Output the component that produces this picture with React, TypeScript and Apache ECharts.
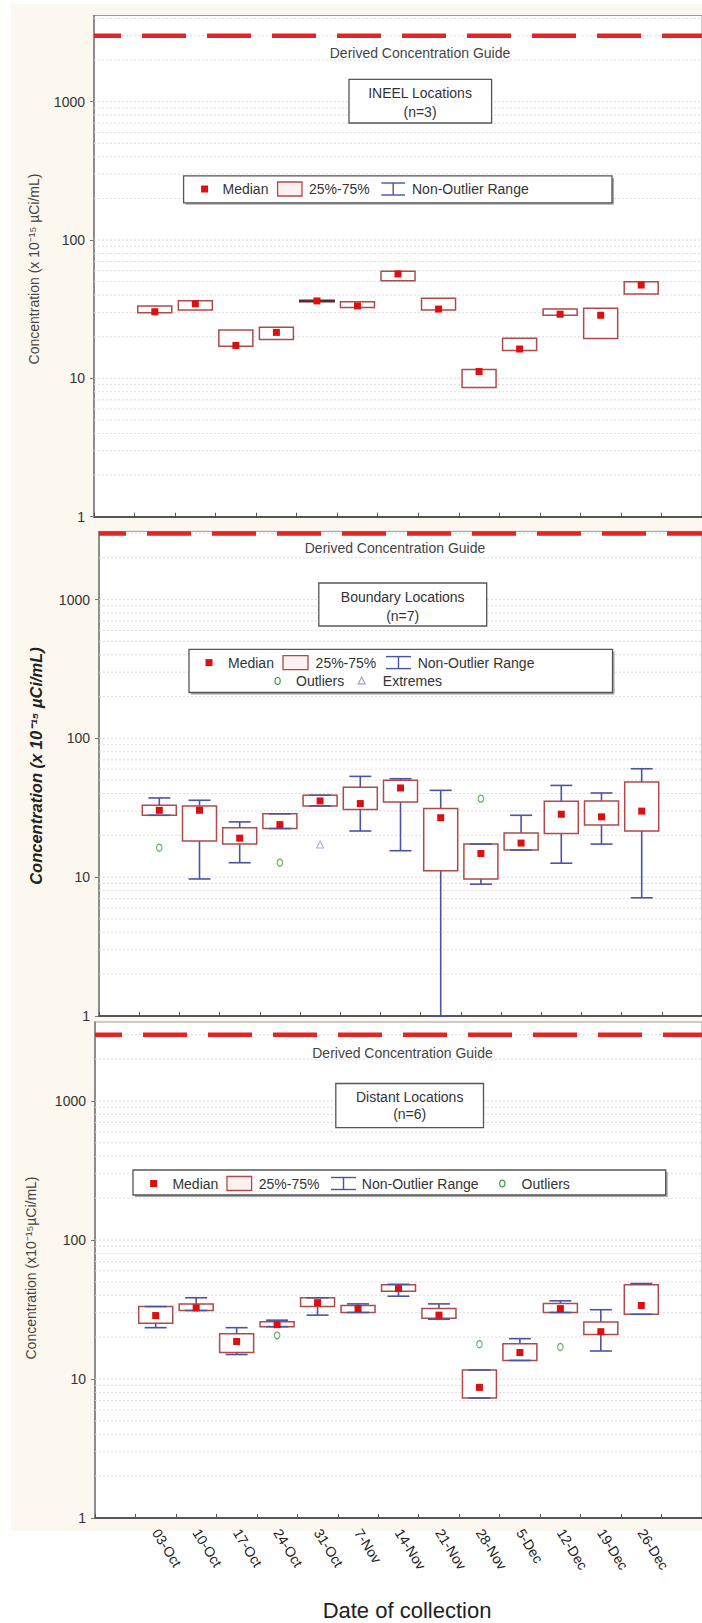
import React, { useEffect, useRef } from "react";
import * as echarts from "echarts";

// ---------- data ----------
const dates = ["03-Oct", "10-Oct", "17-Oct", "24-Oct", "31-Oct", "7-Nov", "14-Nov", "21-Nov", "28-Nov", "5-Dec", "12-Dec", "19-Dec", "26-Dec"];
const axisCategories = ["", ...dates, ""];

// INEEL Locations (n=3) — no separate whiskers
const ineelQ1 = [29.8, 31.2, 17.1, 19.1, 36.0, 32.6, 50.7, 31.2, 8.6, 15.9, 28.6, 19.4, 40.8];
const ineelMedian = [30.3, 34.6, 17.3, 21.5, 36.3, 33.4, 56.9, 31.7, 11.2, 16.3, 29.1, 28.6, 47.3];
const ineelQ3 = [33.4, 36.4, 22.4, 23.4, 36.6, 35.8, 59.6, 37.9, 11.6, 19.5, 31.7, 32.1, 49.9];

// Boundary Locations (n=7)
const boundaryMin = [27.9, 9.7, 12.7, 22.4, 32.6, 21.5, 15.5, 1, 8.9, 15.7, 12.6, 17.3, 7.1];
const boundaryQ1 = [27.9, 18.2, 17.3, 22.4, 32.6, 30.7, 34.8, 11.1, 9.7, 15.7, 20.6, 23.7, 21.5];
const boundaryMedian = [30.3, 30.3, 19.1, 23.9, 35.4, 33.9, 43.9, 26.8, 14.8, 17.6, 28.4, 27.2, 29.9];
const boundaryQ3 = [33.0, 32.6, 22.7, 28.6, 38.9, 44.4, 49.8, 31.2, 17.3, 20.8, 35.2, 35.4, 48.5];
const boundaryMax = [37.2, 35.8, 25.0, 28.6, 38.9, 53.2, 51.2, 42.2, 17.3, 27.9, 45.8, 40.4, 60.4];
const boundaryOutliers = [[0, 16.3], [3, 12.7], [8, 36.8]]; // [date index, value]
const boundaryExtremes = [[4, 17.2]];

// Distant Locations (n=6)
const distantMin = [23.4, 31.1, 15.0, 23.8, 28.8, 30.1, 39.4, 26.9, 7.3, 13.6, 30.1, 15.9, 29.2];
const distantQ1 = [25.2, 31.1, 15.5, 23.8, 33.2, 30.1, 42.8, 27.4, 7.3, 13.6, 30.1, 20.9, 29.2];
const distantMedian = [28.6, 32.5, 18.6, 24.6, 35.4, 32.1, 44.7, 28.8, 8.7, 15.5, 32.1, 21.9, 33.8];
const distantQ3 = [33.2, 34.7, 21.2, 25.8, 38.4, 33.8, 47.7, 32.1, 11.6, 17.9, 34.9, 25.7, 47.7];
const distantMax = [33.2, 38.4, 23.4, 26.5, 38.4, 34.7, 48.0, 34.7, 11.6, 19.5, 36.5, 31.5, 48.6];
const distantOutliers = [[3, 20.6], [8, 17.8], [10, 17.0]];

const dcgValue = 3000;
const yTickLabels = [1, 10, 100, 1000];
const yMaxValues = [4200, 3100, 3700];
const gridLineValues = [
  2, 3, 4, 5, 6, 7, 8, 9, 10,
  20, 30, 40, 50, 60, 70, 80, 90, 100,
  200, 300, 400, 500, 600, 700, 800, 900, 1000,
  2000, 3000, 4000,
];

// ---------- styles ----------
const FONT = '"Liberation Sans", Arial, Helvetica, sans-serif';
const BOX_COLOR = "#b04a4a";
const MEDIAN_COLOR = "#dc1010";
const WHISKER_COLOR = "#4a54a4";
const OUTLIER_COLOR = "#3d9a3d";
const EXTREME_COLOR = "#9a9ae2";
const BOX_W = 34;
const CAP_W = 22;

const grids = [
  { left: 94, top: 15.5, width: 618, height: 501.2 },
  { left: 99, top: 531.4, width: 614, height: 484.5 },
  { left: 95, top: 1022, width: 618, height: 496 },
];

function buildBoxData(min: any, q1: number[], med: number[], q3: number[], max: any) {
  return dates.map((_, i) => [i + 1, min ? min[i] : null, q1[i], med[i], q3[i], max ? max[i] : null]);
}

function renderBox(params: any, api: any) {
  const x = api.value(0);
  const lo = api.value(1);
  const q1 = api.value(2);
  const med = api.value(3);
  const q3 = api.value(4);
  const hi = api.value(5);
  const pQ1 = api.coord([x, q1]);
  const pQ3 = api.coord([x, q3]);
  const pMed = api.coord([x, med]);
  const cx = pQ1[0];
  const children: any[] = [];
  const wStyle = { stroke: WHISKER_COLOR, lineWidth: 1.6 };
  if (hi != null && isFinite(hi)) {
    const y = api.coord([x, hi])[1];
    children.push({ type: "line", shape: { x1: cx, y1: y, x2: cx, y2: pQ3[1] }, style: wStyle });
  }
  if (lo != null && isFinite(lo)) {
    const y = api.coord([x, lo])[1];
    children.push({ type: "line", shape: { x1: cx, y1: pQ1[1], x2: cx, y2: y }, style: wStyle });
  }
  const h = pQ1[1] - pQ3[1];
  children.push({
    type: "rect",
    shape: { x: cx - BOX_W / 2, y: pQ3[1], width: BOX_W, height: Math.max(1, h) },
    style: { fill: "#ffffff", stroke: h < 3 ? "#5a2a2a" : BOX_COLOR, lineWidth: h < 3 ? 2 : 1.5 },
  });
  if (hi != null && isFinite(hi)) {
    const y = api.coord([x, hi])[1];
    children.push({ type: "line", shape: { x1: cx - CAP_W / 2, y1: y, x2: cx + CAP_W / 2, y2: y }, style: wStyle });
  }
  if (lo != null && isFinite(lo)) {
    const y = api.coord([x, lo])[1];
    children.push({ type: "line", shape: { x1: cx - CAP_W / 2, y1: y, x2: cx + CAP_W / 2, y2: y }, style: wStyle });
  }
  children.push({
    type: "rect",
    shape: { x: cx - 3.5, y: pMed[1] - 3.5, width: 7, height: 7 },
    style: { fill: MEDIAN_COLOR },
  });
  return { type: "group", children };
}

function renderGridLine(params: any, api: any) {
  const cs = params.coordSys;
  const y = api.coord([0, api.value(1)])[1];
  return {
    type: "line",
    silent: true,
    shape: { x1: cs.x, y1: y, x2: cs.x + cs.width, y2: y },
    style: { stroke: "#dcdcdc", lineWidth: 1, lineDash: [2, 2] },
  };
}

function renderDcg(params: any, api: any) {
  const cs = params.coordSys;
  const y = api.coord([0, api.value(1)])[1];
  return {
    type: "line",
    silent: true,
    shape: { x1: cs.x, y1: y, x2: cs.x + cs.width, y2: y },
    style: { stroke: "#e32424", lineWidth: 4.5, lineDash: [44, 21], lineDashOffset: 17 },
  };
}

function txt(x: number, y: number, text: string, opts: any = {}) {
  return {
    type: "text",
    x,
    y,
    silent: true,
    z: 60,
    rotation: opts.rotation || 0,
    style: {
      text,
      fill: opts.fill || "#333",
      fontSize: opts.fontSize || 14,
      fontFamily: FONT,
      fontWeight: opts.fontWeight || "normal",
      fontStyle: opts.fontStyle || "normal",
      align: opts.align || "left",
      verticalAlign: "middle",
    },
  };
}

function frameBox(x1: number, y1: number, x2: number, y2: number, shadow: boolean) {
  const els: any[] = [];
  if (shadow) {
    els.push({ type: "rect", silent: true, z: 50, shape: { x: x1 + 2, y: y1 + 2, width: x2 - x1, height: y2 - y1 }, style: { fill: "#a8a8a8" } });
  }
  els.push({ type: "rect", silent: true, z: 51, shape: { x: x1, y: y1, width: x2 - x1, height: y2 - y1 }, style: { fill: "#ffffff", stroke: "#555", lineWidth: 1.3 } });
  return els;
}

function medianIcon(x: number, y: number) {
  return { type: "rect", silent: true, z: 60, shape: { x: x - 3.5, y: y - 3.5, width: 7, height: 7 }, style: { fill: MEDIAN_COLOR } };
}
function boxIcon(x1: number, x2: number, y: number) {
  return { type: "rect", silent: true, z: 60, shape: { x: x1, y: y - 7, width: x2 - x1, height: 14 }, style: { fill: "#fdf1f1", stroke: BOX_COLOR, lineWidth: 1.3 } };
}
function whiskerIcon(x1: number, x2: number, y: number) {
  const cx = (x1 + x2) / 2;
  return {
    type: "group",
    silent: true,
    z: 60,
    children: [
      { type: "line", z: 60, shape: { x1, y1: y - 6, x2, y2: y - 6 }, style: { stroke: WHISKER_COLOR, lineWidth: 1.4 } },
      { type: "line", z: 60, shape: { x1: cx, y1: y - 6, x2: cx, y2: y + 6 }, style: { stroke: WHISKER_COLOR, lineWidth: 1.4 } },
      { type: "line", z: 60, shape: { x1, y1: y + 6, x2, y2: y + 6 }, style: { stroke: WHISKER_COLOR, lineWidth: 1.4 } },
    ],
  };
}
function outlierIcon(x: number, y: number) {
  return { type: "ellipse", silent: true, z: 60, shape: { cx: x, cy: y, rx: 2.6, ry: 3.4 }, style: { fill: "none", stroke: OUTLIER_COLOR, lineWidth: 1.2 } };
}
function extremeIcon(x: number, y: number) {
  return { type: "polygon", silent: true, z: 60, shape: { points: [[x, y - 4], [x + 3.5, y + 3], [x - 3.5, y + 3]] }, style: { fill: "none", stroke: EXTREME_COLOR, lineWidth: 1.1 } };
}

export default function App() {
  const ref = useRef<HTMLDivElement>(null);

  useEffect(() => {
    if (!ref.current) return;
    const chart = echarts.init(ref.current, null, { renderer: "svg" });

    const boxSets = [
      buildBoxData(null, ineelQ1, ineelMedian, ineelQ3, null),
      buildBoxData(boundaryMin, boundaryQ1, boundaryMedian, boundaryQ3, boundaryMax),
      buildBoxData(distantMin, distantQ1, distantMedian, distantQ3, distantMax),
    ];

    const series: any[] = [];
    for (let p = 0; p < 3; p++) {
      series.push({
        type: "custom",
        xAxisIndex: p,
        yAxisIndex: p,
        z: 1,
        silent: true,
        renderItem: renderGridLine,
        data: gridLineValues.filter((v) => v < yMaxValues[p]).map((v) => [0, v]),
      });
      series.push({
        type: "custom",
        xAxisIndex: p,
        yAxisIndex: p,
        z: 2,
        silent: true,
        renderItem: renderDcg,
        data: [[0, dcgValue]],
      });
      series.push({
        type: "custom",
        xAxisIndex: p,
        yAxisIndex: p,
        z: 3,
        renderItem: renderBox,
        data: boxSets[p],
      });
    }
    const outlierSets = [null, boundaryOutliers, distantOutliers];
    for (let p = 1; p < 3; p++) {
      series.push({
        type: "scatter",
        xAxisIndex: p,
        yAxisIndex: p,
        z: 4,
        symbol: "circle",
        symbolSize: [5.5, 7],
        itemStyle: { color: "rgba(0,0,0,0)", borderColor: OUTLIER_COLOR, borderWidth: 1.2 },
        data: (outlierSets[p] as number[][]).map(([i, v]) => [i + 1, v]),
      });
    }
    series.push({
      type: "scatter",
      xAxisIndex: 1,
      yAxisIndex: 1,
      z: 4,
      symbol: "triangle",
      symbolSize: 7,
      itemStyle: { color: "rgba(0,0,0,0)", borderColor: EXTREME_COLOR, borderWidth: 1.1 },
      data: boundaryExtremes.map(([i, v]) => [i + 1, v]),
    });

    const graphic: any[] = [
      { type: "rect", silent: true, z: -10, shape: { x: 11, y: 4, width: 700, height: 1527 }, style: { fill: "#fcf8f0" } },
      // y-axis titles
      txt(33.6, 269, "Concentration (x 10⁻¹⁵ µCi/mL)", { rotation: Math.PI / 2, align: "center", fontSize: 14, fill: "#444" }),
      txt(36, 766, "Concentration (x 10⁻¹⁵ µCi/mL)", { rotation: Math.PI / 2, align: "center", fontSize: 16.5, fontWeight: "bold", fontStyle: "italic", fill: "#222" }),
      txt(31, 1268, "Concentration (x10⁻¹⁵µCi/mL)", { rotation: Math.PI / 2, align: "center", fontSize: 14, fill: "#444" }),
      // DCG captions
      txt(420, 53.4, "Derived Concentration Guide", { align: "center", fill: "#444" }),
      txt(395, 548.2, "Derived Concentration Guide", { align: "center", fill: "#444" }),
      txt(402.5, 1052.7, "Derived Concentration Guide", { align: "center", fill: "#444" }),
      // location boxes
      ...frameBox(349, 79.3, 491.6, 123, false),
      txt(420, 93, "INEEL Locations", { align: "center" }),
      txt(420, 112, "(n=3)", { align: "center" }),
      ...frameBox(318.8, 583, 486.7, 626, false),
      txt(402.7, 597, "Boundary Locations", { align: "center" }),
      txt(402.7, 616, "(n=7)", { align: "center" }),
      ...frameBox(335.8, 1083.5, 483.5, 1127.7, false),
      txt(409.7, 1097, "Distant Locations", { align: "center" }),
      txt(409.7, 1114, "(n=6)", { align: "center" }),
      // legend panel 1
      ...frameBox(183.6, 175.9, 612, 202.8, true),
      medianIcon(204.6, 189),
      txt(222.5, 189, "Median"),
      boxIcon(277.6, 302, 189),
      txt(309, 189, "25%-75%"),
      whiskerIcon(381.4, 405, 189),
      txt(412, 189, "Non-Outlier Range"),
      // legend panel 2
      ...frameBox(189, 649.4, 612.5, 692.5, true),
      medianIcon(209, 662.6),
      txt(228, 662.6, "Median"),
      boxIcon(283, 308, 662.6),
      txt(315.6, 662.6, "25%-75%"),
      whiskerIcon(386, 411, 662.6),
      txt(417.7, 662.6, "Non-Outlier Range"),
      outlierIcon(277.6, 680.9),
      txt(296, 680.9, "Outliers"),
      extremeIcon(361.7, 680.9),
      txt(382.8, 680.9, "Extremes"),
      // legend panel 3
      ...frameBox(133, 1170, 665.7, 1195, true),
      medianIcon(153.6, 1183.5),
      txt(172.4, 1183.5, "Median"),
      boxIcon(227, 251.6, 1183.5),
      txt(258.8, 1183.5, "25%-75%"),
      whiskerIcon(331, 356, 1183.5),
      txt(361.8, 1183.5, "Non-Outlier Range"),
      outlierIcon(502.3, 1183.5),
      txt(521.6, 1183.5, "Outliers"),
      // x-axis title
      txt(407, 1610, "Date of collection", { align: "center", fontSize: 22, fill: "#222" }),
    ];

    chart.setOption({
      animation: false,
      backgroundColor: "#ffffff",
      textStyle: { fontFamily: FONT },
      grid: grids.map((g) => ({
        ...g,
        show: true,
        backgroundColor: "#ffffff",
        borderColor: "#9a9a9a",
        borderWidth: 1,
        containLabel: false,
      })),
      xAxis: grids.map((_, p) => ({
        type: "category",
        gridIndex: p,
        data: axisCategories,
        boundaryGap: true,
        axisLine: { show: true, lineStyle: { color: "#555", width: 2 } },
        axisTick: { show: true, inside: true, length: 4, interval: 0, lineStyle: { color: "#555", width: 1 } },
        axisLabel: {
          show: p === 2,
          interval: 0,
          rotate: -58,
          fontSize: 14,
          margin: 12,
          color: "#222",
          fontFamily: FONT,
        },
        splitLine: { show: false },
      })),
      yAxis: grids.map((_, p) => ({
        type: "log",
        logBase: 10,
        gridIndex: p,
        min: 1,
        max: yMaxValues[p],
        axisLine: { show: true, lineStyle: { color: "#777", width: 1.5 } },
        axisTick: { show: true, length: 4, lineStyle: { color: "#777" } },
        axisLabel: {
          fontSize: 14,
          color: "#333",
          margin: 9,
          fontFamily: FONT,
          showMaxLabel: false,
          formatter: (v: number) => {
            const r = Math.round(v);
            return yTickLabels.includes(r) && Math.abs(v - r) < 1e-6 ? String(r) : "";
          },
        },
        splitLine: { show: false },
      })),
      series,
      graphic,
    });

    return () => chart.dispose();
  }, []);

  return (
    <div
      ref={ref}
      style={{ position: "absolute", left: 0, top: 0, width: 702, height: 1623, background: "#fff" }}
    />
  );
}
